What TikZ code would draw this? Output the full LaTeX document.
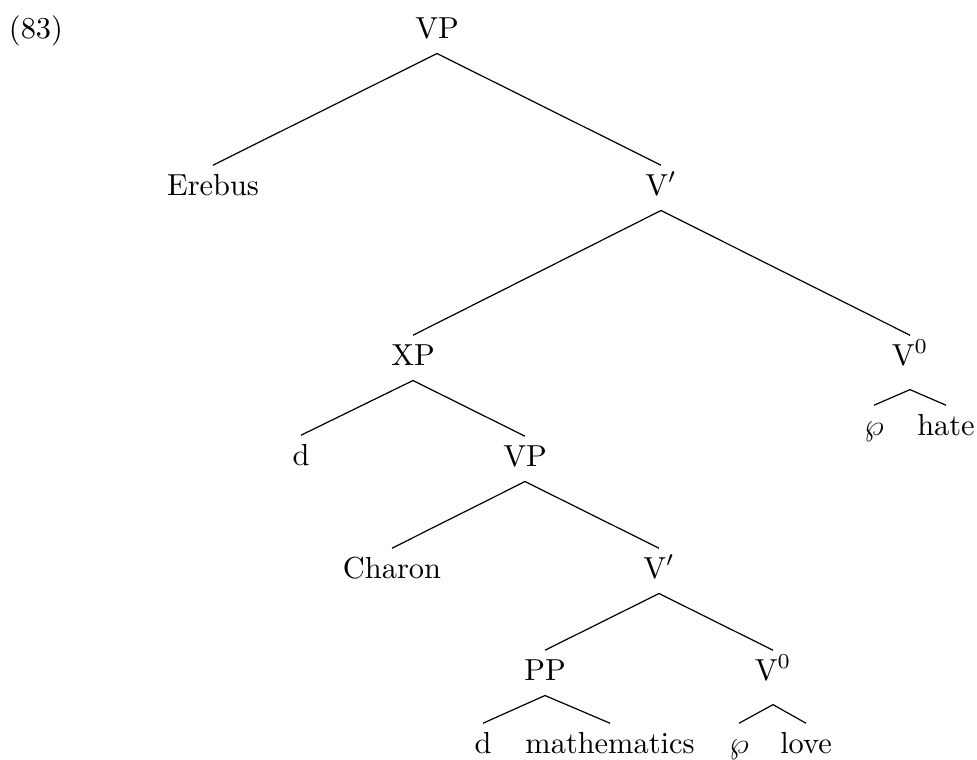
\documentclass[tikz,border=0pt]{standalone}
\begin{document}
\begin{tikzpicture}[x=0.32895pt,y=-0.32895pt,
  tn/.style={inner sep=0pt, anchor=base, text height=9.6pt, text depth=4.9pt},
  vz/.style={tn, text depth=7.9pt},
  br/.style={line width=0.4pt, black}]
\useasboundingbox (0,0) rectangle (977,759);
\node[inner sep=0pt, anchor=base] (ex) at (36,38) {(83)};
\node[tn] (vp1) at (437,38) {VP};
\node[tn] (ere) at (213,195) {Erebus};
\node[tn] (vb1) at (661,195) {V$'$};
\node[tn] (xp) at (413,365) {XP};
\node[vz] (vz1) at (910,365) {V$^0$};
\node[tn] (d1) at (301,465) {d};
\node[tn] (vp2) at (525,466) {VP};
\node[tn] (wp1) at (874,435) {$\wp$};
\node[tn] (hate) at (946,435) {hate};
\node[tn] (cha) at (392,578) {Charon};
\node[tn] (vb2) at (659,578) {V$'$};
\node[tn] (pp) at (545,680) {PP};
\node[vz] (vz2) at (773,680) {V$^0$};
\node[tn] (d2) at (483,753) {d};
\node[tn] (math) at (610,753) {mathematics};
\node[tn] (wp2) at (739,753) {$\wp$};
\node[tn] (love) at (806,753) {love};
\draw[br] (ere.north) -- (vp1.south) -- (vb1.north);
\draw[br] (xp.north) -- (vb1.south) -- (vz1.north);
\draw[br] (d1.north) -- (xp.south) -- (vp2.north);
\draw[br] (wp1.north) -- (vz1.south) -- (hate.north);
\draw[br] (cha.north) -- (vp2.south) -- (vb2.north);
\draw[br] (pp.north) -- (vb2.south) -- (vz2.north);
\draw[br] (d2.north) -- (pp.south) -- (math.north);
\draw[br] (wp2.north) -- (vz2.south) -- (love.north);
\end{tikzpicture}
\end{document}
